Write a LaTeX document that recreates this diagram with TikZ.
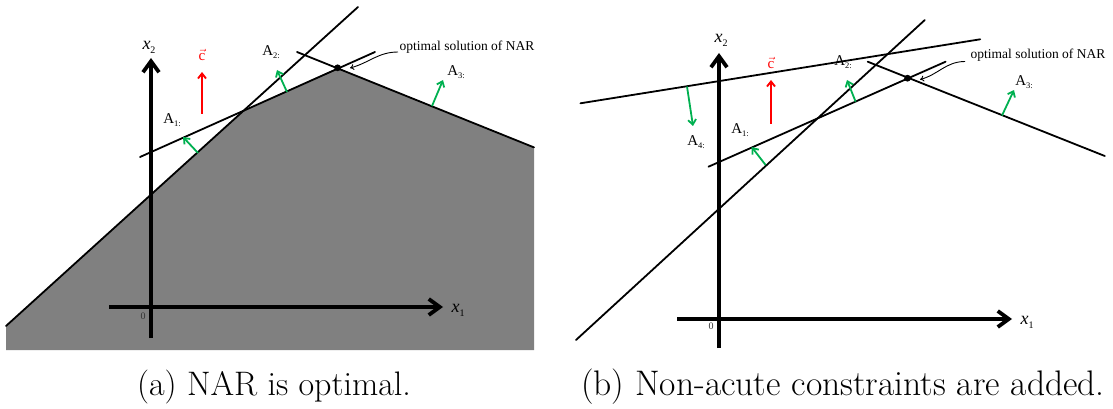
\documentclass[tikz,border=0pt]{standalone}
\usepackage{fontspec}
\usetikzlibrary{arrows.meta}
\newfontfamily\tms{Liberation Serif}
\definecolor{cgreen}{RGB}{0,176,80}
\definecolor{cgray}{RGB}{128,128,128}
\newcommand\Alab[1]{{\tms A\raisebox{-0.4ex}{\fontsize{8.5}{8.5}\selectfont #1:}}}
\newcommand\xlab[1]{{\tms\itshape x\raisebox{-0.5ex}{\fontsize{10}{10}\selectfont\upshape #1}}}
\begin{document}
\begin{tikzpicture}[x=1pt,y=-1pt,
  cline/.style={line width=1.8pt,line cap=round},
  axisline/.style={line width=3.8pt,-{Straight Barb[length=11pt,width=16pt]}},
  normal/.style={draw=cgreen,line width=1.8pt,-{Straight Barb[length=5pt,width=8pt]}},
  cvec/.style={draw=red,line width=1.9pt,-{Straight Barb[length=5pt,width=8pt]}},
  lbl/.style={font=\fontsize{15}{15}\selectfont,inner sep=0pt},
  axlbl/.style={font=\fontsize{18}{18}\selectfont,inner sep=0pt},
  zero/.style={font=\tms\fontsize{10}{10}\selectfont,inner sep=0pt,text=black!80},
  opt/.style={font=\tms\fontsize{13.5}{13.5}\selectfont,inner sep=0pt},
  curv/.style={line width=0.9pt,-{To[length=4pt,width=6pt]}},
  captxt/.style={font=\fontsize{34}{34}\selectfont,inner sep=0pt,anchor=base}]
\useasboundingbox (0,0) rectangle (1113,409);
% ---------------- panel (a) ----------------
\coordinate (sA1) at (6,326);
\coordinate (sA2) at (358,7);
\coordinate (hA1) at (140,157);
\coordinate (hA2) at (375,52);
\coordinate (tA1) at (297,52);
\coordinate (tA2) at (534,147.4);
\coordinate (vA) at (337.6,67.8);
\coordinate (iA) at (244.2,110.3);
\fill[cgray] (sA1) -- (6,350) -- (534,350) -- (tA2) -- (vA) -- (iA) -- cycle;
\draw[cline] (sA1) -- (sA2);
\draw[cline] (hA1) -- (hA2);
\draw[cline] (tA1) -- (tA2);
\coordinate (yA0) at (151,338);
\coordinate (yA1) at (151,58);
\coordinate (xA0) at (109,307);
\coordinate (xA1) at (443,307);
\draw[axisline] (yA0) -- (yA1);
\draw[axisline] (xA0) -- (xA1);
\node[axlbl] (x2A) at (149,47) {\xlab{2}};
\node[axlbl] (x1A) at (458,310) {\xlab{1}};
\node[zero] (zA) at (143,316) {0};
\fill (vA) circle (3.4pt);
% normals
\coordinate (n1a) at (198,153); \coordinate (n1b) at (183,137);
\coordinate (n2a) at (287,92);  \coordinate (n2b) at (277,70);
\coordinate (n3a) at (432,106); \coordinate (n3b) at (443,80);
\draw[normal] (n1a) -- (n1b);
\draw[normal] (n2a) -- (n2b);
\draw[normal] (n3a) -- (n3b);
\node[lbl] (a1A) at (172,120) {\Alab{1}};
\node[lbl] (a2A) at (271,52) {\Alab{2}};
\node[lbl] (a3A) at (456,72) {\Alab{3}};
\coordinate (cA0) at (202,114);
\coordinate (cA1) at (202,72);
\draw[cvec] (cA0) -- (cA1);
\node[lbl,text=red] (cLA) at (202,55) {$\vec{\hbox{\tms c}}$};
\node[opt] (optA) at (467,47) {optimal solution of NAR};
\coordinate (sOA) at (398,52);
\coordinate (tOA) at (350,68);
\draw[curv] (sOA) to[out=180,in=15] (tOA);
\node[captxt] (capA) at (274,395) {(a) NAR is optimal.};
% ---------------- panel (b) ----------------
\coordinate (sB1) at (576,340);
\coordinate (sB2) at (924.8,20);
\coordinate (fB1) at (580.4,103.3);
\coordinate (fB2) at (980.2,39.3);
\coordinate (hB1) at (708.5,166.7);
\coordinate (hB2) at (945.6,61.7);
\coordinate (tB1) at (867.7,61.7);
\coordinate (tB2) at (1104.8,156);
\coordinate (vB) at (907.5,78.2);
\draw[cline] (sB1) -- (sB2);
\draw[cline] (fB1) -- (fB2);
\draw[cline] (hB1) -- (hB2);
\draw[cline] (tB1) -- (tB2);
\coordinate (yB0) at (719,348);
\coordinate (yB1) at (719,53);
\coordinate (xB0) at (677,319);
\coordinate (xB1) at (1012,319);
\draw[axisline] (yB0) -- (yB1);
\draw[axisline] (xB0) -- (xB1);
\node[axlbl] (x2B) at (721,40) {\xlab{2}};
\node[axlbl] (x1B) at (1027,322) {\xlab{1}};
\node[zero] (zB) at (711,326) {0};
\fill (vB) circle (3.4pt);
\coordinate (m1a) at (765.6,165); \coordinate (m1b) at (751.7,147);
\coordinate (m2a) at (855.6,101.7); \coordinate (m2b) at (847,80);
\coordinate (m3a) at (1002,115.5); \coordinate (m3b) at (1014,90);
\coordinate (m4a) at (687,86.5); \coordinate (m4b) at (693,126);
\draw[normal] (m1a) -- (m1b);
\draw[normal] (m2a) -- (m2b);
\draw[normal] (m3a) -- (m3b);
\draw[normal] (m4a) -- (m4b);
\node[lbl] (a1B) at (740,130) {\Alab{1}};
\node[lbl] (a2B) at (843,62) {\Alab{2}};
\node[lbl] (a3B) at (1024,82) {\Alab{3}};
\node[lbl] (a4B) at (696,142) {\Alab{4}};
\coordinate (cB0) at (771,124);
\coordinate (cB1) at (771,80);
\draw[cvec] (cB0) -- (cB1);
\node[lbl,text=red] (cLB) at (771,63) {$\vec{\hbox{\tms c}}$};
\node[opt] (optB) at (1038,55) {optimal solution of NAR};
\coordinate (sOB) at (965,61.5);
\coordinate (tOB) at (920,79.5);
\draw[curv] (sOB) to[out=180,in=15] (tOB);
\node[captxt,font=\fontsize{35.5}{35.5}\selectfont] (capB) at (843,395) {(b) Non-acute constraints are added.};
\end{tikzpicture}
\end{document}
